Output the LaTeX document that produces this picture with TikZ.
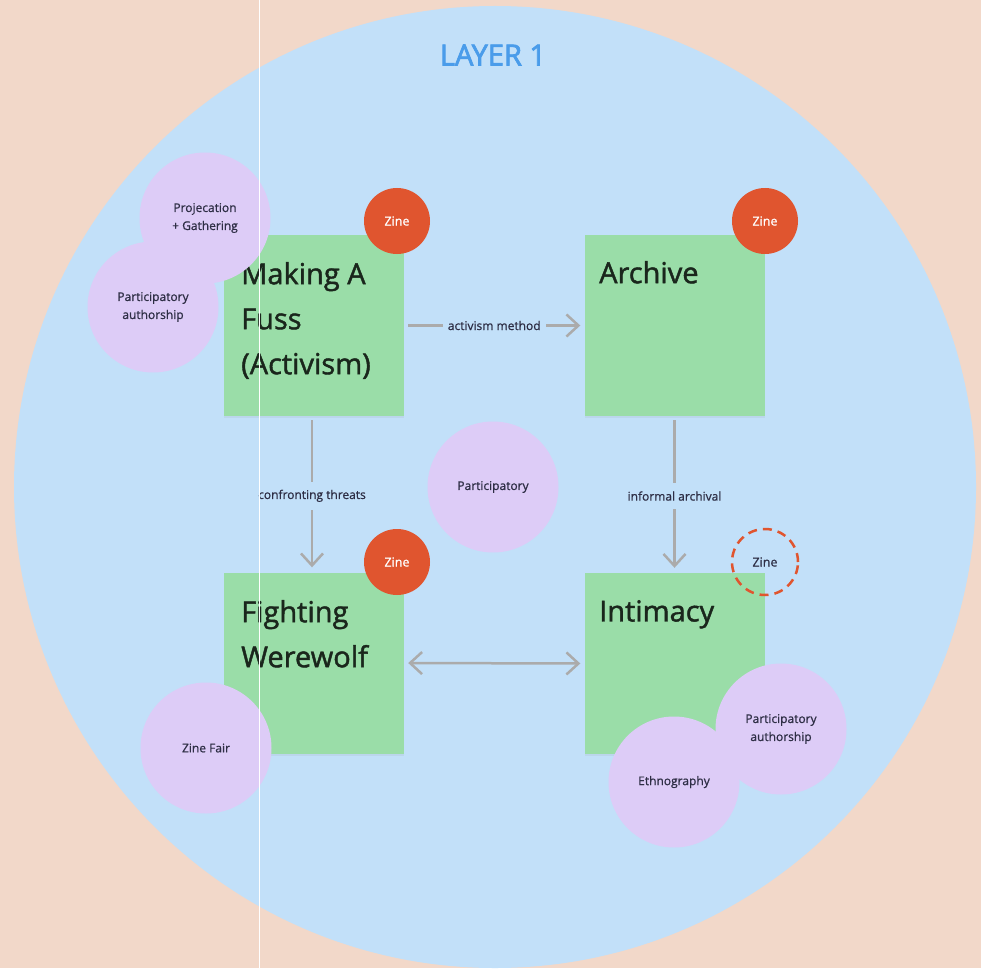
\documentclass[tikz,border=0pt]{standalone}
\usepackage{fontspec}
\setmainfont{Open Sans}
\newfontfamily\boxfont{Open Sans}[FakeBold=1.5]
\newfontfamily\titlefont{Open Sans}[FakeBold=2.5]
\newfontfamily\smallfont{Open Sans}[FakeBold=0.8]
\usetikzlibrary{arrows.meta,shadows}
\definecolor{peach}{HTML}{F2D8C9}
\definecolor{bluebg}{HTML}{C2E0F9}
\definecolor{boxgreen}{HTML}{9ADDA8}
\definecolor{zinered}{HTML}{E0552F}
\definecolor{bubblepurple}{HTML}{DDCCF7}
\definecolor{arrowgray}{HTML}{ABABAB}
\definecolor{titleblue}{HTML}{4A9CEA}
\definecolor{darktext}{HTML}{1A261C}
\definecolor{smalltext}{HTML}{2E2E45}
\begin{document}
\begin{tikzpicture}[x=1pt,y=-1pt,
  box/.style={fill=boxgreen, minimum width=180pt, minimum height=181pt, inner sep=0pt,
    drop shadow={opacity=0.10, shadow xshift=0pt, shadow yshift=-2pt}},
  boxtext/.style={anchor=north west, inner sep=0pt, align=left, text=darktext,
    font=\boxfont\fontsize{29}{45}\selectfont},
  zine/.style={circle, fill=zinered, minimum size=66pt, inner sep=0pt, text=white,
    font=\smallfont\fontsize{12.5}{14}\selectfont},
  zinedash/.style={circle, draw=zinered, line width=2.5pt, dash pattern=on 9pt off 6pt,
    minimum size=66pt, inner sep=0pt, text=smalltext, font=\smallfont\fontsize{12.5}{14}\selectfont},
  bubble/.style={circle, fill=bubblepurple, minimum size=131pt, inner sep=0pt, text=smalltext,
    align=center, font=\smallfont\fontsize{12}{18}\selectfont},
  link/.style={draw=arrowgray, line width=2.5pt},
  tipend/.style={-{Straight Barb[length=12pt,width=22pt]}},
  tipboth/.style={{Straight Barb[length=12pt,width=22pt]}-{Straight Barb[length=12pt,width=22pt]}},
  lbl/.style={fill=bluebg, text=smalltext, inner xsep=5pt, inner ysep=8pt,
    font=\smallfont\fontsize{12}{14}\selectfont}
]
\useasboundingbox (0,0) rectangle (981,968);
\fill[peach] (0,0) rectangle (981,968);
\node[circle, fill=bluebg, minimum size=962pt, inner sep=0pt] (layer) at (495,487) {};
\node[font=\titlefont\fontsize{29}{35}\selectfont, text=titleblue] (title) at (493,55) {LAYER 1};

% boxes
\node[box] (fuss) at (314,325.5) {};
\node[box] (archive) at (674.5,325.5) {};
\node[box] (fight) at (314,663) {};
\node[box] (intimacy) at (674.5,663.5) {};

\node[boxtext] (fusst) at (241,262) {Making A\\Fuss\\(Activism)};
\node[boxtext] (archivet) at (599,261) {Archive};
\node[boxtext] (fightt) at (241,600) {Fighting\\Werewolf};
\node[boxtext] (intimacyt) at (599,600) {Intimacy};

% connectors
\draw[link, tipend, shorten <=4pt, shorten >=4pt] (fuss.east) -- (archive.west)
  node[lbl, midway] (l1) {activism method};
\draw[link, tipend, shorten <=4pt, shorten >=5pt] ([xshift=-2pt]fuss.south) -- ([xshift=-2pt]fight.north)
  node[lbl, pos=0.51] (l2) {confronting threats};
\draw[link, tipend, shorten <=4pt, shorten >=5pt] (archive.south) -- (intimacy.north)
  node[lbl, pos=0.51] (l3) {informal archival};
\draw[link, tipboth, shorten <=4pt, shorten >=4pt] (fight.east) -- (intimacy.west);

% zine circles
\node[zine] (z1) at (397,221) {Zine};
\node[zine] (z2) at (765,221) {Zine};
\node[zine] (z3) at (397,562) {Zine};
\node[zinedash] (z4) at (765,562) {Zine};

% bubbles
\node[bubble] (pa1) at (153,307) {Participatory\\authorship};
\node[bubble] (pg) at (205,218) {Projecation\\+ Gathering};
\node[bubble] (part) at (493,487) {Participatory};
\node[bubble] (fair) at (206,748) {Zine Fair};
\node[bubble] (pa2) at (781,729) {Participatory\\authorship};
\node[bubble] (eth) at (674,782) {Ethnography};

% white guide line
\draw[white, line width=1.5pt] (259.5,0) -- (259.5,968);
\end{tikzpicture}
\end{document}
